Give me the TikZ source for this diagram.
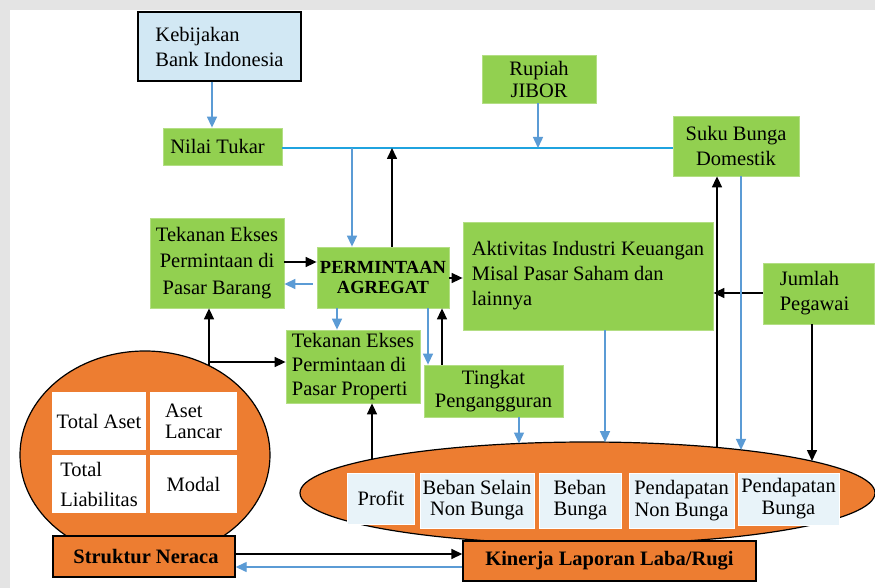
\documentclass[tikz,border=0pt]{standalone}
\usepackage{fontspec}
\setmainfont{Liberation Serif}
\usetikzlibrary{shapes.geometric,arrows.meta}
\definecolor{boxgreen}{HTML}{92D050}
\definecolor{boxorange}{HTML}{ED7D31}
\definecolor{boxblue}{HTML}{D2E8F4}
\definecolor{cellblue}{HTML}{E8F3F9}
\definecolor{arrblue}{HTML}{5B9BD5}
\definecolor{linecyan}{HTML}{1FA3DF}
\definecolor{bggray}{HTML}{E4E4E4}
\tikzset{
  txt/.style={font=\fontsize{20.5}{25}\selectfont},
  gbox/.style={txt, rectangle, fill=boxgreen, draw=boxgreen!70!white, line width=0.8pt, inner sep=0pt, align=center},
  obox/.style={rectangle, fill=boxorange, draw=black, line width=1.4pt, inner sep=0pt, align=center,
     font=\fontsize{20.5}{25}\selectfont\bfseries},
  wcell/.style={txt, rectangle, fill=white, inner sep=0pt, align=center},
  bcell/.style={txt, rectangle, fill=cellblue, draw=white, line width=0.6pt, inner sep=0pt, align=center},
  blk/.style={draw=black, line width=1.6pt, -{Triangle[length=11pt,width=10pt]}},
  blu/.style={draw=arrblue, line width=1.4pt, -{Triangle[length=11pt,width=10pt]}},
  bluline/.style={draw=arrblue, line width=1.4pt},
  blkline/.style={draw=black, line width=1.6pt},
}
\begin{document}
\begin{tikzpicture}[x=1pt,y=-1pt]
\useasboundingbox (0,0) rectangle (875,588);
\fill[bggray] (0,0) rectangle (875,588);
\fill[white] (10,10) rectangle (875,588);

% top boxes
\node[txt, rectangle, fill=boxblue, draw=black, line width=1.3pt, minimum width=163, minimum height=69, inner sep=0pt, align=left]
  (keb) at (219.5,46.5) {Kebijakan\\Bank Indonesia};
\node[gbox, minimum width=119, minimum height=37, align=left] (nt) at (222.5,146.5) {\hspace*{-10pt}Nilai Tukar};
\node[gbox, minimum width=114, minimum height=48] (rj) at (539,79) {Rupiah\\[-3pt]JIBOR};
\node[gbox, minimum width=126, minimum height=60] (sbd) at (736,146) {Suku Bunga\\Domestik};

% middle boxes
\node[gbox, minimum width=134, minimum height=90, font=\fontsize{20.5}{26.5}\selectfont] (tepb) at (217,263) {Tekanan Ekses\\Permintaan di\\Pasar Barang};
\node[gbox, minimum width=132, minimum height=61, font=\fontsize{18.5}{20}\selectfont\bfseries] (pa) at (383,277.5) {PERMINTAAN\\AGREGAT};
\node[gbox, minimum width=134, minimum height=73, align=left, font=\fontsize{20.5}{24}\selectfont] (tepp) at (353,366.5) {Tekanan Ekses\\Permintaan di\\Pasar Properti};
\node[gbox, minimum width=139, minimum height=52, font=\fontsize{20.5}{23}\selectfont] (tp) at (493.5,391) {Tingkat\\Pengangguran};
\node[gbox, minimum width=250, minimum height=108, align=left] (aik) at (588,276) {Aktivitas Industri Keuangan\\Misal Pasar Saham dan\\lainnya};
\node[gbox, minimum width=111, minimum height=61, align=left] (jp) at (818.5,293.5) {\hspace*{-8pt}Jumlah\\\hspace*{-8pt}Pegawai};

% balance sheet circle
\node[ellipse, fill=boxorange, draw=black, line width=1.2pt, minimum width=250, minimum height=208, inner sep=0pt] (circ) at (145,455) {};
\node[wcell, minimum width=94, minimum height=58] (ta) at (99,421) {Total Aset};
\node[wcell, minimum width=87, minimum height=58, font=\fontsize{20.5}{21}\selectfont, align=left] (al) at (193.5,421) {Aset\\Lancar};
\node[wcell, minimum width=94, minimum height=58, font=\fontsize{20.5}{30}\selectfont, align=left] (tl) at (99,484) {Total\\Liabilitas};
\node[wcell, minimum width=87, minimum height=58] (md) at (193.5,484) {Modal};
\node[obox, minimum width=182, minimum height=41] (sn) at (144,556.5) {\hspace*{4pt}Struktur Neraca};

% income statement ellipse
\node[ellipse, fill=boxorange, draw=black, line width=1.2pt, minimum width=575, minimum height=102, inner sep=0pt] (ell) at (587.5,493) {};
\node[bcell, minimum width=67, minimum height=51] (pf) at (381,498.5) {Profit};
\node[bcell, minimum width=114, minimum height=55, font=\fontsize{20.5}{21}\selectfont] (bsnb) at (477,500.5) {Beban Selain\\Non Bunga};
\node[bcell, minimum width=82, minimum height=55, font=\fontsize{20.5}{21}\selectfont, align=left] (bb) at (580.5,500.5) {Beban\\Bunga};
\node[bcell, minimum width=105, minimum height=55, font=\fontsize{20.5}{22}\selectfont] (pnb) at (681.5,500.5) {Pendapatan\\Non Bunga};
\node[bcell, minimum width=101, minimum height=52, font=\fontsize{20.5}{22}\selectfont] (pb) at (788.5,499) {Pendapatan\\Bunga};
\node[obox, minimum width=293, minimum height=40] (kin) at (609.5,561) {Kinerja Laporan Laba/Rugi};

% junction coordinates
\coordinate (jrj) at (538,148);
\coordinate (jpa) at (352,148);
\coordinate (jup) at (392,148);
\coordinate (cc) at (209,365.7);
\coordinate (ccr) at (209,362);
\coordinate (e519) at (519,443.5);
\coordinate (e605) at (605,442.2);
\coordinate (e717) at (717,447.5);
\coordinate (e741) at (741,449.9);
\coordinate (e812) at (812,461);
\coordinate (e372) at (372,459.2);
\coordinate (yb) at (0,554);
\coordinate (yl) at (0,567);

% connectors
\draw[blu] (keb.south -| 212,0) -- (nt.north -| 212,0);
\draw[linecyan, line width=1.4pt] (nt.east |- jrj) -- (sbd.west |- jrj);
\draw[blu] (rj.south -| jrj) -- (jrj);
\draw[blu] (jpa) -- (jpa |- pa.north);
\draw[blk] (jup |- pa.north) -- (jup);
\draw[blk] (tepb.east |- 0,262) -- (pa.west |- 0,262);
\draw[blu] ([xshift=-4pt]pa.west |- 0,284) -- (tepb.east |- 0,284);
\draw[blu] (pa.south -| 337,0) -- (tepp.north -| 337,0);
\draw[blu] (pa.south -| 428,0) -- (tp.north -| 428,0);
\draw[blk] (tp.north -| 442,0) -- (pa.south -| 442,0);
\draw[blk] (pa.east |- 0,278) -- (aik.west |- 0,278);
\draw[blk] (jp.west |- 0,293) -- (aik.east |- 0,293);
\draw[blk] (e717) -- (sbd.south -| e717);
\draw[blu] (sbd.south -| e741) -- (e741);
\draw[blk] (jp.south -| e812) -- (e812);
\draw[blu] (aik.south -| e605) -- (e605);
\draw[blu] (tp.south -| e519) -- (e519);
\draw[blk] (e372) -- (tepp.south -| e372);
\draw[blk] (cc) -- (tepb.south -| cc);
\draw[blk] (ccr) -- (tepp.west |- ccr);
\draw[blk] (sn.east |- yb) -- (kin.west |- yb);
\draw[blu] (kin.west |- yl) -- (sn.east |- yl);
\end{tikzpicture}
\end{document}
